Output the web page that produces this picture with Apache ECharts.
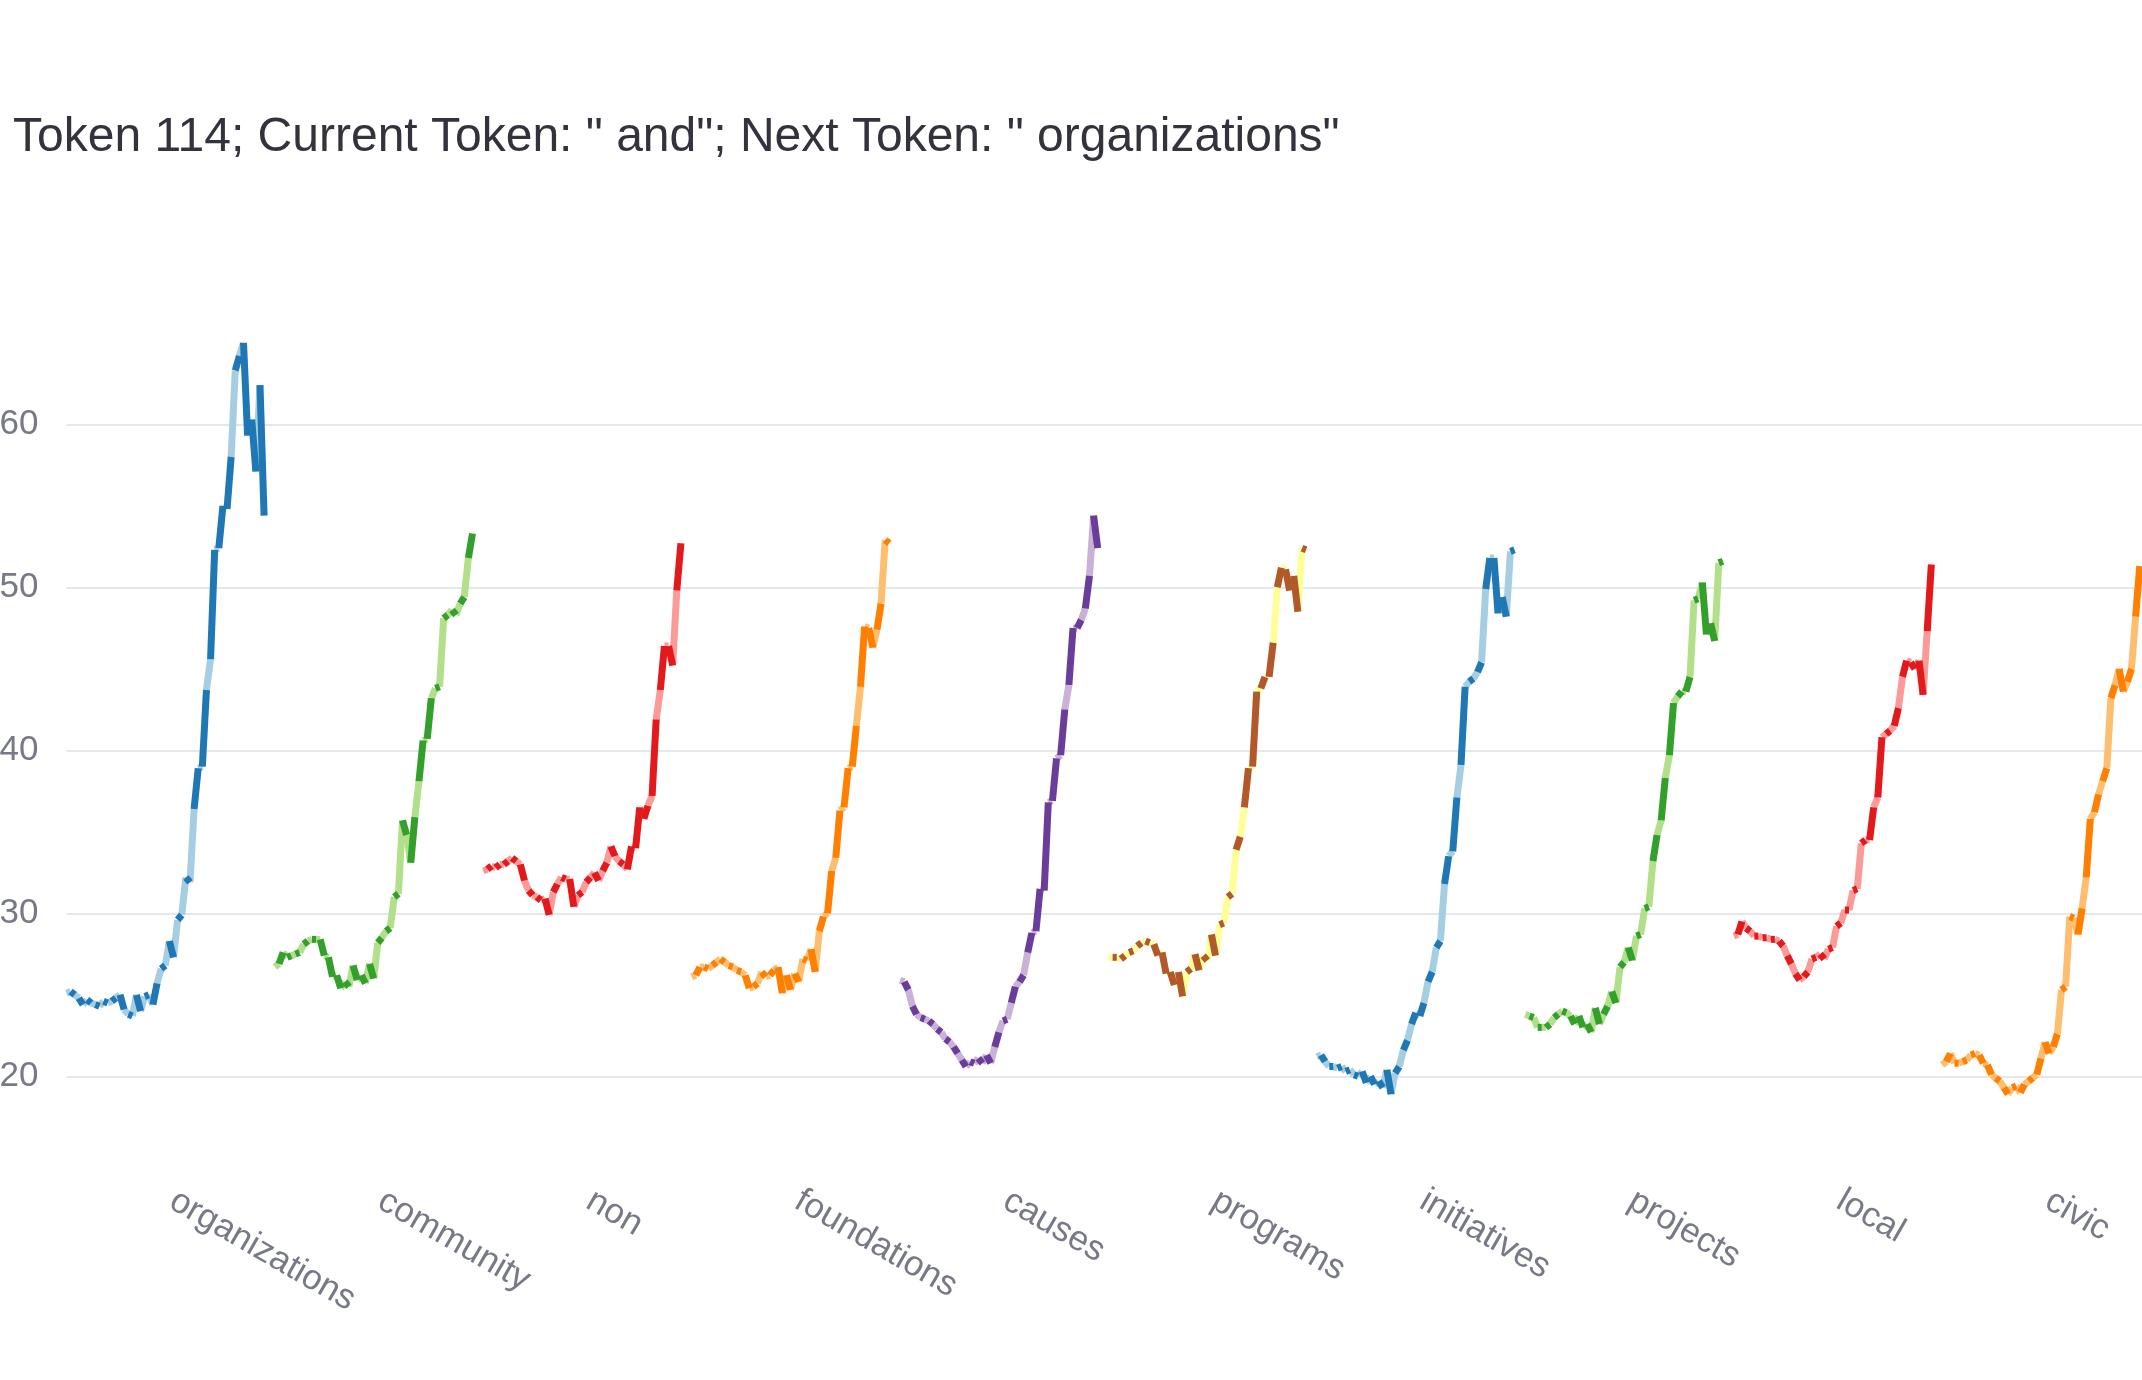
<!DOCTYPE html>
<html>
<head>
<meta charset="utf-8">
<script src="https://cdn.jsdelivr.net/npm/echarts@6/dist/echarts.min.js"></script>
<style>
  html, body { margin: 0; padding: 0; background: #ffffff; }
  #chart { width: 2142px; height: 1380px; }
</style>
</head>
<body>
<div id="chart"></div>
<script>
// ---- data ----
const TITLE = 'Token 114; Current Token: " and"; Next Token: " organizations"';
const CATEGORIES = ['organizations', 'community', 'non', 'foundations', 'causes',
                    'programs', 'initiatives', 'projects', 'local', 'civic'];

const ORGANIZATIONS = [25.1, 25.2, 25.0, 24.8, 24.4, 24.7, 24.5, 24.4, 24.3, 24.6,
  24.5, 24.6, 24.8, 25.0, 24.1, 23.8, 23.7, 25.0, 24.0, 24.9,
  25.0, 24.4, 25.7, 26.6, 26.8, 28.3, 27.3, 29.6, 29.9, 32.2,
  31.9, 36.4, 38.9, 39.0, 43.7, 45.6, 52.3, 52.4, 55.0, 54.8,
  58.0, 63.3, 64.2, 65.0, 59.3, 60.3, 57.1, 62.4, 54.4];
const COMMUNITY = [26.7, 26.9, 27.6, 27.3, 27.4, 27.5, 27.6, 28.1, 28.3, 28.4,
  28.4, 28.4, 27.4, 27.3, 26.1, 26.2, 25.4, 25.8, 25.5, 26.8,
  25.9, 26.2, 25.7, 26.9, 26.0, 28.2, 28.5, 28.9, 29.1, 31.0,
  31.2, 35.7, 34.8, 33.1, 35.9, 38.1, 40.6, 40.7, 43.2, 43.8,
  43.9, 48.1, 48.3, 48.6, 48.3, 49.0, 49.4, 51.8, 53.3];
const NON = [32.6, 32.7, 32.9, 32.8, 33.0, 33.0, 33.2, 33.4, 33.2, 33.0,
  32.0, 31.4, 31.1, 31.0, 30.8, 30.9, 29.9, 31.3, 31.8, 32.2,
  32.1, 32.1, 30.4, 31.1, 31.3, 31.9, 32.2, 32.5, 32.0, 32.6,
  33.1, 34.1, 33.5, 33.2, 33.0, 32.7, 34.1, 34.0, 36.5, 35.8,
  36.6, 37.2, 41.9, 43.7, 46.4, 46.4, 45.2, 49.8, 52.7];
const FOUNDATIONS = [26.1, 26.2, 26.7, 26.7, 26.6, 26.8, 27.0, 27.2, 27.0, 26.8,
  26.7, 26.5, 26.4, 26.2, 25.4, 25.5, 25.7, 26.4, 26.1, 26.2,
  26.5, 26.7, 25.1, 26.2, 25.3, 26.3, 25.8, 27.2, 27.1, 27.8,
  26.4, 28.9, 29.8, 30.0, 32.6, 33.4, 36.3, 36.5, 38.9, 39.0,
  41.5, 43.9, 47.6, 47.5, 46.3, 47.4, 49.0, 52.9, 52.7];
const CAUSES = [25.9, 25.8, 25.3, 24.3, 23.8, 23.6, 23.5, 23.4, 23.2, 22.9,
  22.7, 22.3, 22.1, 21.8, 21.4, 21.0, 20.6, 20.9, 20.8, 21.1,
  20.8, 21.3, 20.8, 21.8, 22.7, 23.4, 23.5, 24.5, 25.5, 25.8,
  26.2, 27.6, 28.8, 28.9, 31.5, 31.4, 36.8, 36.9, 39.5, 39.7,
  42.5, 44.0, 47.5, 47.5, 48.0, 48.7, 50.7, 54.4, 52.4];
const PROGRAMS = [27.2, 27.3, 27.3, 27.2, 27.4, 27.6, 27.7, 28.0, 28.2, 28.3,
  28.2, 28.1, 27.4, 27.6, 26.3, 26.4, 25.6, 26.4, 24.9, 26.4,
  26.6, 27.5, 26.5, 27.4, 27.1, 28.7, 27.4, 29.3, 29.4, 31.0,
  31.2, 33.9, 34.7, 36.5, 38.9, 39.0, 43.6, 43.8, 44.5, 44.5,
  46.6, 50.0, 51.2, 51.1, 49.8, 50.7, 48.5, 52.4, 52.3];
const INITIATIVES = [21.2, 21.3, 20.9, 20.6, 20.6, 20.5, 20.6, 20.3, 20.4, 20.1,
  20.0, 20.3, 19.6, 20.0, 19.5, 19.7, 19.3, 20.4, 18.9, 20.2,
  20.6, 21.6, 22.2, 23.2, 23.9, 23.7, 24.5, 25.8, 26.4, 27.9,
  28.3, 31.8, 33.5, 33.8, 37.1, 39.1, 43.9, 44.2, 44.4, 44.8,
  45.4, 49.9, 51.8, 51.8, 48.4, 49.4, 48.2, 52.2, 52.3];
const PROJECTS = [23.8, 23.7, 23.6, 23.0, 23.0, 23.0, 23.2, 23.6, 23.8, 24.0,
  23.9, 23.7, 23.2, 23.7, 23.0, 23.2, 22.7, 24.2, 23.2, 23.8,
  24.3, 25.2, 24.5, 26.7, 27.0, 27.9, 27.1, 28.6, 28.7, 30.3,
  30.4, 33.2, 34.8, 35.7, 38.3, 39.7, 42.9, 43.3, 43.6, 43.6,
  44.5, 49.2, 49.3, 50.3, 47.1, 47.8, 46.7, 51.5, 51.6];
const LOCAL = [28.6, 28.7, 29.5, 29.1, 28.9, 28.6, 28.6, 28.5, 28.5, 28.4,
  28.4, 28.3, 28.0, 27.4, 26.9, 26.3, 25.9, 26.1, 26.4, 27.2,
  27.3, 27.5, 27.2, 27.8, 27.9, 29.2, 29.4, 30.2, 30.2, 31.4,
  31.5, 34.3, 34.5, 34.5, 36.5, 37.1, 40.8, 41.0, 41.2, 41.5,
  42.6, 44.5, 45.5, 45.4, 45.0, 45.5, 43.4, 47.3, 51.4];
const CIVIC = [20.7, 20.9, 21.4, 20.8, 20.8, 20.9, 21.0, 21.3, 21.4, 21.3,
  20.8, 20.7, 20.1, 19.9, 19.7, 19.3, 18.9, 19.3, 19.4, 19.0,
  19.5, 19.7, 19.9, 20.1, 21.1, 22.1, 21.4, 21.8, 22.6, 25.3,
  25.5, 29.8, 29.7, 28.7, 30.3, 32.2, 35.8, 36.2, 37.3, 38.1,
  38.9, 43.2, 44.0, 45.0, 43.6, 44.2, 45.0, 48.2, 51.3];

const GROUP_VALUES = [ORGANIZATIONS, COMMUNITY, NON, FOUNDATIONS, CAUSES,
                      PROGRAMS, INITIATIVES, PROJECTS, LOCAL, CIVIC];

// Paired palette: [dark, light] per group (cycles after 6)
const DARK_COLORS  = ['#1f78b4', '#33a02c', '#e31a1c', '#ff7f00', '#6a3d9a', '#b15928'];
const LIGHT_COLORS = ['#a6cee3', '#b2df8a', '#fb9a99', '#fdbf6f', '#cab2d6', '#ffff99'];

// ---- layout constants ----
const LAYER_STEP = 0.019755;   // x distance between consecutive layers, in category units

function layerX(g, j, n) {
  return g + (j - (n - 1) / 2) * LAYER_STEP;
}

// build segment data: [x1, y1, x2, y2, group]
const lightSegs = [];
const darkSegs = [];
GROUP_VALUES.forEach(function (vals, g) {
  const n = vals.length;
  for (let k = 0; k < n - 1; k++) {
    const item = [layerX(g, k, n), vals[k], layerX(g, k + 1, n), vals[k + 1], g];
    if (k % 2 === 1) darkSegs.push(item); else lightSegs.push(item);
  }
});

function makeRender(palette) {
  return function (params, api) {
    const p1 = api.coord([api.value(0), api.value(1)]);
    const p2 = api.coord([api.value(2), api.value(3)]);
    const g = api.value(4);
    return {
      type: 'line',
      shape: { x1: p1[0], y1: p1[1], x2: p2[0], y2: p2[1] },
      style: { stroke: palette[g % palette.length], lineWidth: 7, lineCap: 'butt' }
    };
  };
}

const chart = echarts.init(document.getElementById('chart'), null, { renderer: 'canvas' });

const option = {
  backgroundColor: '#ffffff',
  animation: false,
  title: {
    text: TITLE,
    left: 8,
    top: 109,
    textStyle: {
      fontFamily: 'Liberation Sans, Arial, sans-serif',
      fontSize: 48,
      fontWeight: 'normal',
      color: '#32333c'
    }
  },
  grid: {
    left: 66.5,
    right: 0,
    top: 261.3,
    bottom: 189.6,
    containLabel: false,
    outerBoundsMode: 'none'
  },
  xAxis: {
    type: 'value',
    min: -0.474,
    max: 9.485,
    axisLine: { show: false },
    axisTick: { show: false },
    splitLine: { show: false },
    axisLabel: {
      customValues: CATEGORIES.map(function (c, i) { return i; }),
      formatter: function (v) { return CATEGORIES[Math.round(v)] || ''; },
      rotate: -30,
      margin: 4,
      padding: [0, 0, 0, 8],
      fontFamily: 'Liberation Sans, Arial, sans-serif',
      fontSize: 35,
      color: '#777987'
    }
  },
  yAxis: {
    type: 'value',
    min: 13,
    max: 70,
    minInterval: 10,
    maxInterval: 10,
    axisLine: { show: false },
    axisTick: { show: false },
    axisLabel: {
      margin: 28,
      showMinLabel: false,
      showMaxLabel: false,
      fontFamily: 'Liberation Sans, Arial, sans-serif',
      fontSize: 35,
      color: '#777987'
    },
    splitLine: {
      show: true,
      showMinLine: false,
      showMaxLine: false,
      lineStyle: { color: '#e5e7ed', width: 2 }
    }
  },
  series: [
    {
      type: 'custom',
      name: 'light',
      renderItem: makeRender(LIGHT_COLORS),
      encode: { x: [0, 2], y: [1, 3] },
      data: lightSegs,
      clip: false,
      silent: true,
      z: 2
    },
    {
      type: 'custom',
      name: 'dark',
      renderItem: makeRender(DARK_COLORS),
      encode: { x: [0, 2], y: [1, 3] },
      data: darkSegs,
      clip: false,
      silent: true,
      z: 3
    }
  ]
};

chart.setOption(option);
</script>
</body>
</html>
